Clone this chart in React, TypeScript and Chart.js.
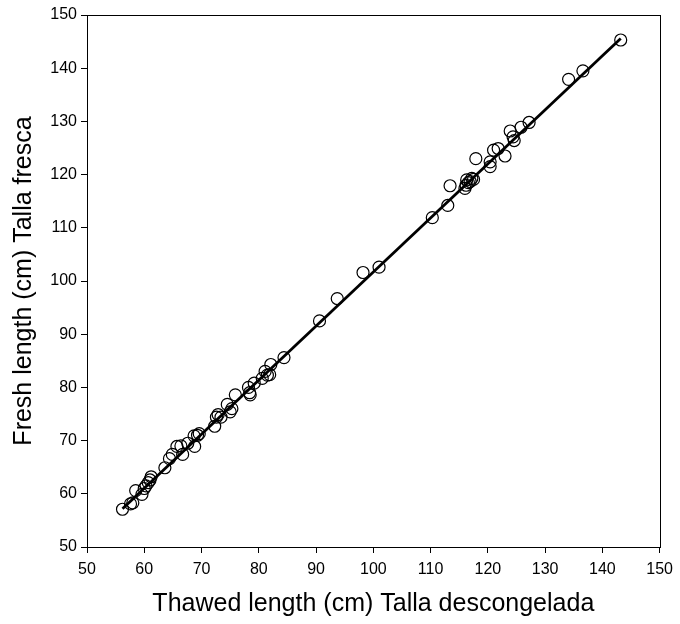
import React, { useEffect, useRef } from "react";
import { Chart, registerables } from "chart.js";

Chart.register(...registerables);

const thawedLength: number[] = [
  56.2, 57.6, 58.0, 58.5, 59.6, 60.0, 60.3, 60.7, 61.0, 61.2, 63.6, 64.4, 64.9, 65.7, 66.4, 66.7, 67.6, 68.7, 68.8, 69.3,
  69.6, 72.3, 72.6, 72.9, 73.4, 74.5, 75.0, 75.3, 75.9, 78.2, 78.4, 78.5, 79.2, 80.6, 81.1, 81.5, 81.9, 82.1, 84.4,
  90.6, 93.7, 98.2, 101.0, 110.3, 113.0, 113.4, 116.0, 116.3, 116.6, 116.9, 117.2, 117.5, 116.2, 117.9, 120.4, 120.4,
  121.0, 121.8, 123.0, 123.9, 124.4, 124.6, 125.8, 127.2, 134.1, 136.6, 143.2,
];
const freshLength: number[] = [
  57.1, 58.1, 58.3, 60.6, 59.9, 61.0, 61.5, 62.1, 62.6, 63.2, 64.9, 66.6, 67.4, 68.9, 69.0, 67.4, 69.5, 70.9, 68.9, 71.0,
  71.3, 72.7, 74.4, 74.9, 74.4, 76.8, 75.4, 76.0, 78.6, 80.0, 79.0, 78.6, 80.8, 81.7, 83.0, 82.3, 82.4, 84.3, 85.6,
  92.5, 96.7, 101.6, 102.6, 111.9, 114.2, 117.9, 117.4, 119.0, 118.5, 118.7, 119.3, 119.1, 118.0, 123.0, 121.5, 122.4,
  124.6, 124.9, 123.5, 128.2, 127.1, 126.4, 128.9, 129.8, 137.9, 139.5, 145.3,
];
const fitLineX: number[] = [56.2, 143.2];
const fitLineY: number[] = [57.2, 145.6];

const axisMin = 50;
const axisMax = 150;
const tickStep = 10;

const xTitle = "Thawed length (cm) Talla descongelada";
const yTitle = "Fresh length (cm) Talla fresca";

const FONT = "'Liberation Sans', Arial, Helvetica, sans-serif";

const boxPlugin = {
  id: "boxPlugin",
  afterDraw(chart: any) {
    const { ctx, chartArea } = chart;
    ctx.save();
    ctx.strokeStyle = "#000";
    ctx.lineWidth = 1;
    ctx.strokeRect(
      Math.round(chartArea.left) + 0.5,
      Math.round(chartArea.top) + 0.5,
      Math.round(chartArea.right - chartArea.left),
      Math.round(chartArea.bottom - chartArea.top)
    );
    ctx.restore();
  },
};

export default function App() {
  const ref = useRef<HTMLCanvasElement | null>(null);

  useEffect(() => {
    document.body.style.margin = "0";
    const canvas = ref.current;
    if (!canvas) return;
    const points = thawedLength.map((x, i) => ({ x, y: freshLength[i] }));
    const line = fitLineX.map((x, i) => ({ x, y: fitLineY[i] }));

    const tickFont = { family: FONT, size: 16 };
    const titleFont = { family: FONT, size: 25 };

    const chart = new Chart(canvas, {
      type: "scatter",
      data: {
        datasets: [
          {
            type: "line",
            data: line,
            borderColor: "#000",
            borderWidth: 2.8,
            pointRadius: 0,
            showLine: true,
            fill: false,
            order: 0,
          } as any,
          {
            data: points,
            pointStyle: "circle",
            pointRadius: 6,
            pointBorderWidth: 1.2,
            pointBorderColor: "#000",
            pointBackgroundColor: "rgba(0,0,0,0)",
            showLine: false,
            order: 1,
          },
        ],
      },
      options: {
        responsive: false,
        animation: false,
        layout: { padding: { top: 15, right: 18, left: 0, bottom: 0 } },
        plugins: {
          legend: { display: false },
          tooltip: { enabled: false },
        },
        scales: {
          x: {
            type: "linear",
            min: axisMin,
            max: axisMax,
            ticks: { stepSize: tickStep, color: "#000", font: tickFont, padding: 7, maxRotation: 0 },
            grid: {
              display: true,
              drawOnChartArea: false,
              drawTicks: true,
              tickLength: 6,
              color: "#000",
              lineWidth: 1,
            },
            border: { display: false },
            title: { display: true, text: xTitle, color: "#000", font: titleFont, padding: { top: 0, bottom: 5 } },
            afterFit(scale: any) {
              scale.height = 77;
            },
          },
          y: {
            type: "linear",
            min: axisMin,
            max: axisMax,
            ticks: { stepSize: tickStep, color: "#000", font: tickFont, padding: 4 },
            grid: {
              display: true,
              drawOnChartArea: false,
              drawTicks: true,
              tickLength: 6,
              color: "#000",
              lineWidth: 1,
            },
            border: { display: false },
            title: { display: true, text: yTitle, color: "#000", font: titleFont, padding: { top: 9, bottom: 0 } },
            afterFit(scale: any) {
              scale.width = 87;
            },
          },
        },
      },
      plugins: [boxPlugin],
    });
    return () => chart.destroy();
  }, []);

  return (
    <div style={{ width: 680, height: 624, position: "relative", background: "#fff" }}>
      <canvas ref={ref} width={680} height={624} style={{ display: "block" }} />
    </div>
  );
}
